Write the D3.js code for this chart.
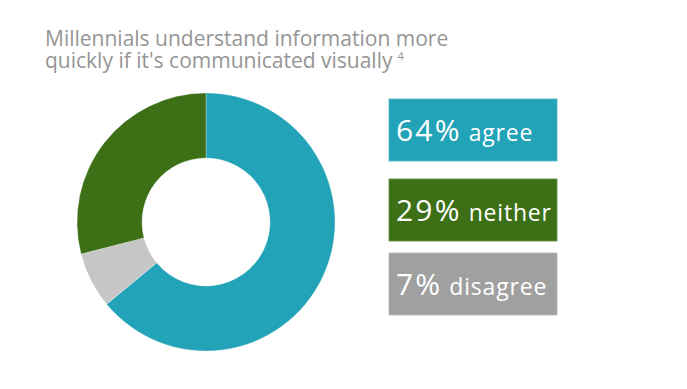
<!DOCTYPE html>
<html>
<head>
<meta charset="utf-8">
<script src="https://cdn.jsdelivr.net/npm/d3@7"></script>
<style>
  html, body { margin: 0; padding: 0; background: #fff; }
  svg { display: block; }
</style>
</head>
<body>
<svg id="chart" width="687" height="389"></svg>
<script>
// survey answers, in legend order
const labels = ['agree', 'neither', 'disagree'];
const values = [64, 29, 7];
const boxColors = ['#22A3B8', '#3D7016', '#A0A0A0'];
const sliceColors = ['#22A3B8', '#3D7016', '#C6C6C6'];
// clockwise order of the slices, starting at 12 o'clock
const pieOrder = ['agree', 'disagree', 'neither'];
const titleLines = ['Millennials understand information more', "quickly if it's communicated visually"];
const footnote = '4';

const svg = d3.select('#chart');

// title, one text per line
const title = svg.append('g')
    .attr('font-family', '"Open Sans", sans-serif')
    .attr('font-size', 21)
    .attr('fill', '#959595');
title.selectAll('text')
    .data(titleLines)
    .join('text')
    .attr('x', 45)
    .attr('y', (d, i) => 46 + i * 22)
    .text(d => d);
const lastLine = title.selectAll('text').filter((d, i) => i === titleLines.length - 1);
const lastW = lastLine.node().getComputedTextLength();
title.append('text')
    .attr('x', 45 + lastW + 5)
    .attr('y', 46 + 22 - 8)
    .attr('font-size', 11)
    .text(footnote);

// donut
const cx = 206, cy = 222, outerR = 129, innerR = 64;
const byLabel = new Map(labels.map((l, i) => [l, { label: l, value: values[i], color: sliceColors[i] }]));
const pie = d3.pie()
    .sort(null)
    .value(d => d.value);
const arc = d3.arc().innerRadius(innerR).outerRadius(outerR);

svg.append('g')
    .attr('transform', `translate(${cx},${cy})`)
    .selectAll('path')
    .data(pie(pieOrder.map(l => byLabel.get(l))))
    .join('path')
    .attr('d', arc)
    .attr('fill', d => d.data.color)
    .attr('stroke', '#fff')
    .attr('stroke-width', 0.3);

// legend boxes
const boxTop = d3.scaleOrdinal().domain(labels).range([98, 178, 252]);
const boxX = 388, boxW = 169, boxH = 63;

const boxes = svg.append('g')
    .selectAll('g.box')
    .data(labels.map((l, i) => ({ label: l, value: values[i], color: boxColors[i] })))
    .join('g')
    .attr('class', 'box')
    .attr('transform', d => `translate(${boxX},${boxTop(d.label)})`);

boxes.append('rect')
    .attr('x', 0.5)
    .attr('y', 0.5)
    .attr('width', boxW)
    .attr('height', boxH)
    .attr('fill', d => d.color)
    .attr('stroke', 'rgba(255,255,255,0.35)')
    .attr('stroke-width', 1.5);

boxes.each(function (d) {
    const g = d3.select(this);
    const pct = g.append('text')
        .attr('x', 8)
        .attr('y', 43)
        .attr('font-family', '"Open Sans", sans-serif')
        .attr('font-size', 30)
        .attr('letter-spacing', 2.2)
        .attr('fill', '#fff')
        .text(`${d.value}%`);
    const w = pct.node().getComputedTextLength();
    g.append('text')
        .attr('x', 8 + w + 7)
        .attr('y', 43)
        .attr('font-family', '"Open Sans", sans-serif')
        .attr('font-size', 23)
        .attr('letter-spacing', 0.8)
        .attr('fill', '#fff')
        .text(d.label);
});
</script>
</body>
</html>
